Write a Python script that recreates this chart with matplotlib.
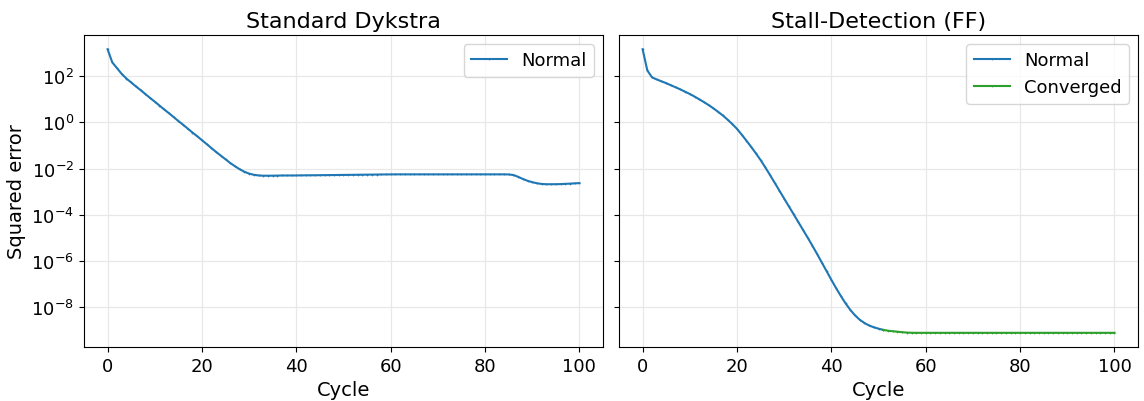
import numpy as np
from matplotlib import pyplot as plt
from matplotlib.ticker import NullLocator

# Squared error per cycle
cycles = list(range(0, 101))

dykstra_err = [
    1.48e3, 3.98e2, 2.24e2, 1.26e2, 7.94e1, 5.37e1, 3.63e1, 2.51e1, 1.70e1, 1.15e1,
    7.94, 5.37, 3.63, 2.51, 1.70, 1.15, 7.94e-1, 5.37e-1, 3.63e-1, 2.51e-1,
    1.70e-1, 1.15e-1, 7.76e-2, 5.25e-2, 3.63e-2, 2.51e-2, 1.74e-2, 1.26e-2, 9.33e-3, 7.24e-3,
    6.03e-3, 5.37e-3, 5.01e-3, 4.90e-3, 4.90e-3, 4.90e-3, 4.95e-3, 5.00e-3, 5.00e-3, 5.00e-3,
    5.02e-3, 5.05e-3, 5.08e-3, 5.10e-3, 5.12e-3, 5.15e-3, 5.18e-3, 5.20e-3, 5.23e-3, 5.26e-3,
    5.29e-3, 5.32e-3, 5.35e-3, 5.38e-3, 5.41e-3, 5.44e-3, 5.47e-3, 5.50e-3, 5.53e-3, 5.56e-3,
    5.58e-3, 5.60e-3, 5.60e-3, 5.60e-3, 5.60e-3, 5.60e-3, 5.60e-3, 5.60e-3, 5.60e-3, 5.60e-3,
    5.60e-3, 5.60e-3, 5.60e-3, 5.60e-3, 5.60e-3, 5.60e-3, 5.60e-3, 5.60e-3, 5.60e-3, 5.60e-3,
    5.60e-3, 5.60e-3, 5.60e-3, 5.60e-3, 5.60e-3, 5.55e-3, 5.25e-3, 4.40e-3, 3.55e-3, 2.95e-3,
    2.57e-3, 2.30e-3, 2.15e-3, 2.09e-3, 2.09e-3, 2.10e-3, 2.12e-3, 2.17e-3, 2.22e-3, 2.28e-3,
    2.34e-3,
]

stall_cycles = list(range(0, 52))
stall_err = [
    1.48e3, 1.78e2, 8.91e1, 7.24e1, 6.03e1, 5.01e1, 4.07e1, 3.31e1, 2.69e1, 2.14e1,
    1.70e1, 1.32e1, 1.00e1, 7.59, 5.62, 4.07, 2.88, 2.00, 1.32, 8.51e-1,
    5.25e-1, 2.95e-1, 1.62e-1, 8.71e-2, 4.57e-2, 2.34e-2, 1.12e-2, 5.25e-3, 2.40e-3, 1.10e-3,
    5.01e-4, 2.29e-4, 1.05e-4, 4.79e-5, 2.19e-5, 1.00e-5, 4.47e-6, 1.95e-6, 8.32e-7, 3.55e-7,
    1.51e-7, 6.61e-8, 3.02e-8, 1.45e-8, 7.59e-9, 4.37e-9, 2.82e-9, 2.04e-9, 1.58e-9, 1.32e-9,
    1.15e-9, 1.02e-9,
]

conv_cycles = list(range(51, 101))
conv_err = [
    1.02e-9, 9.40e-10, 8.90e-10, 8.50e-10, 8.10e-10, 7.80e-10, 7.65e-10, 7.60e-10, 7.60e-10, 7.60e-10,
    7.60e-10, 7.60e-10, 7.60e-10, 7.60e-10, 7.60e-10, 7.60e-10, 7.60e-10, 7.60e-10, 7.60e-10, 7.60e-10,
    7.60e-10, 7.60e-10, 7.60e-10, 7.60e-10, 7.60e-10, 7.60e-10, 7.60e-10, 7.60e-10, 7.60e-10, 7.60e-10,
    7.60e-10, 7.60e-10, 7.60e-10, 7.60e-10, 7.60e-10, 7.60e-10, 7.60e-10, 7.60e-10, 7.60e-10, 7.60e-10,
    7.60e-10, 7.60e-10, 7.60e-10, 7.60e-10, 7.60e-10, 7.60e-10, 7.60e-10, 7.60e-10, 7.60e-10, 7.60e-10,
]

yticks = [1e-8, 1e-6, 1e-4, 1e-2, 1e0, 1e2]

fig = plt.figure(figsize=(11.44, 4.02), dpi=100)
ax1 = fig.add_axes([0.0734, 0.1343, 0.4537, 0.776])
ax2 = fig.add_axes([0.5411, 0.1343, 0.4537, 0.776], sharey=ax1)

line_kw = dict(marker='.', markersize=2.5, linewidth=1.5, markeredgewidth=0)

ax1.plot(cycles, dykstra_err, color='tab:blue', label='Normal', **line_kw)
ax2.plot(stall_cycles, stall_err, color='tab:blue', label='Normal', **line_kw)
ax2.plot(conv_cycles, conv_err, color='tab:green', label='Converged', **line_kw)

ax1.set_yscale('log')
ax1.set_yticks(yticks)
ax1.yaxis.set_minor_locator(NullLocator())

for ax in (ax1, ax2):
    ax.grid(True, color='#e8e8e8', linewidth=0.9)
    ax.set_axisbelow(True)
    ax.set_xticks([0, 20, 40, 60, 80, 100])
    ax.tick_params(labelsize=13)
    ax.set_xlabel('Cycle', fontsize=14)
    ax.legend(loc='upper right', fontsize=13)

ax1.set_ylabel('Squared error', fontsize=14)
plt.setp(ax2.get_yticklabels(), visible=False)

ax1.set_title('Standard Dykstra', fontsize=16)
ax2.set_title('Stall-Detection (FF)', fontsize=16)

fig.savefig('out.png', dpi=100)
